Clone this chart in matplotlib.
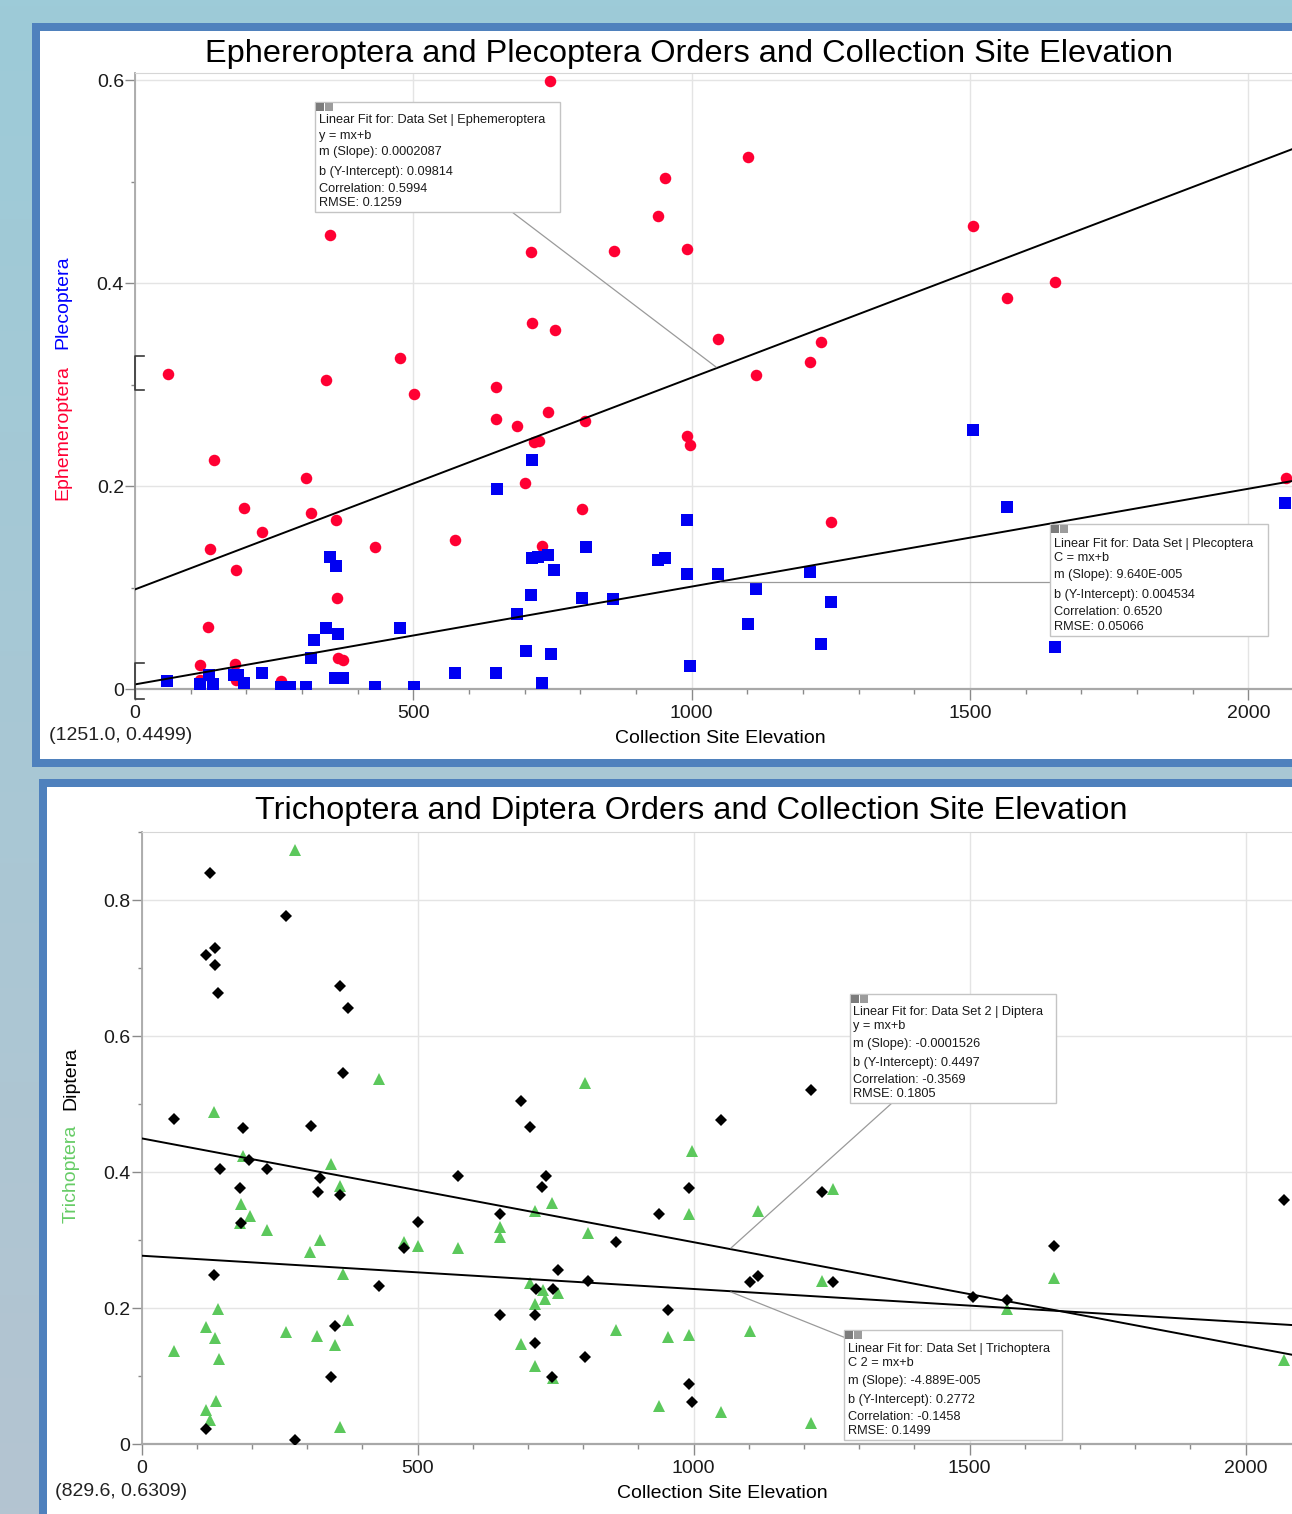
import matplotlib
matplotlib.use('Agg')
import matplotlib.pyplot as plt
import matplotlib.patches as mpatches
import matplotlib.lines as mlines
import matplotlib.ticker as ticker
from matplotlib.colors import LinearSegmentedColormap
import numpy as np

plt.rcParams['font.family'] = ['Liberation Sans', 'DejaVu Sans']

W, H = 1292, 1514

# ---- data: top chart (elevation, fraction of sample) ----
eph_x = [745, 1101, 952, 939, 1505, 350, 992, 711, 860, 1653, 1566, 713, 754, 1047,
         1232, 476, 1212, 59, 343, 1116, 648, 501, 742, 686, 648, 808, 717, 726, 992,
         997, 142, 307, 700, 195, 317, 803, 361, 1251, 228, 135, 431, 574, 731, 181,
         362, 132, 364, 374, 117, 180, 116, 181, 262, 2068]
eph_y = [0.599, 0.524, 0.504, 0.466, 0.456, 0.447, 0.434, 0.431, 0.432, 0.401, 0.385,
         0.361, 0.354, 0.345, 0.342, 0.326, 0.322, 0.310, 0.304, 0.309, 0.298, 0.291,
         0.273, 0.259, 0.266, 0.264, 0.243, 0.244, 0.249, 0.240, 0.226, 0.208, 0.203,
         0.178, 0.173, 0.177, 0.167, 0.165, 0.155, 0.138, 0.140, 0.147, 0.141, 0.117,
         0.090, 0.061, 0.031, 0.029, 0.024, 0.025, 0.009, 0.009, 0.008, 0.208]

ple_x = [1506, 650, 713, 350, 361, 810, 713, 724, 742, 753, 711, 803, 859, 687, 476,
         343, 365, 322, 317, 702, 747, 574, 649, 731, 228, 359, 374, 58, 133, 117,
         141, 178, 185, 195, 262, 278, 307, 431, 501, 1567, 992, 940, 952, 992, 1048,
         1212, 1115, 1251, 1101, 1232, 1653, 997, 2066]
ple_y = [0.255, 0.197, 0.226, 0.130, 0.121, 0.140, 0.129, 0.130, 0.132, 0.117, 0.093,
         0.090, 0.089, 0.074, 0.060, 0.060, 0.054, 0.048, 0.031, 0.037, 0.034, 0.016,
         0.016, 0.006, 0.016, 0.011, 0.011, 0.008, 0.014, 0.005, 0.005, 0.014, 0.014,
         0.006, 0.002, 0.002, 0.002, 0.002, 0.002, 0.179, 0.167, 0.127, 0.129, 0.113,
         0.113, 0.115, 0.099, 0.086, 0.064, 0.044, 0.041, 0.023, 0.183]

eph_m, eph_b = 0.0002087, 0.09814
ple_m, ple_b = 9.640e-5, 0.004534

# ---- data: bottom chart ----
dip_x = [124, 261, 116, 134, 133, 138, 360, 374, 365, 58, 184, 307, 688, 703, 1213,
         1049, 195, 142, 227, 323, 178, 319, 360, 574, 732, 726, 181, 501, 649, 938,
         860, 476, 132, 754, 431, 715, 746, 809, 649, 713, 350, 712, 804, 343, 744,
         117, 278, 992, 1232, 1653, 1102, 1117, 1252, 1507, 1568, 953, 992, 998, 2070]
dip_y = [0.840, 0.776, 0.719, 0.730, 0.704, 0.664, 0.673, 0.641, 0.546, 0.478, 0.465,
         0.468, 0.505, 0.466, 0.521, 0.477, 0.418, 0.405, 0.405, 0.392, 0.377, 0.371,
         0.366, 0.395, 0.395, 0.378, 0.326, 0.327, 0.339, 0.339, 0.297, 0.288, 0.249,
         0.256, 0.233, 0.228, 0.228, 0.240, 0.190, 0.190, 0.174, 0.149, 0.129, 0.099,
         0.099, 0.022, 0.006, 0.376, 0.371, 0.292, 0.238, 0.248, 0.238, 0.216, 0.212,
         0.198, 0.088, 0.062, 0.359]

tri_x = [278, 430, 804, 132, 184, 343, 360, 180, 197, 178, 227, 323, 306, 476, 501,
         574, 649, 649, 713, 744, 809, 365, 703, 728, 731, 755, 712, 139, 117, 133,
         141, 58, 262, 318, 350, 374, 688, 860, 713, 746, 135, 117, 124, 360, 938,
         998, 992, 1117, 1252, 1232, 1653, 1568, 953, 992, 1102, 1049, 1213, 2070]
tri_y = [0.874, 0.537, 0.531, 0.488, 0.424, 0.412, 0.380, 0.353, 0.336, 0.325, 0.315,
         0.301, 0.282, 0.298, 0.292, 0.289, 0.319, 0.305, 0.343, 0.355, 0.310, 0.250,
         0.237, 0.227, 0.214, 0.222, 0.206, 0.199, 0.173, 0.156, 0.125, 0.137, 0.165,
         0.159, 0.146, 0.182, 0.147, 0.168, 0.115, 0.097, 0.064, 0.050, 0.036, 0.026,
         0.057, 0.431, 0.339, 0.343, 0.375, 0.240, 0.245, 0.199, 0.158, 0.160, 0.166,
         0.048, 0.032, 0.124]

dip_m, dip_b = -0.0001526, 0.4497
tri_m, tri_b = -4.889e-5, 0.2772

x_max = 2100


def fig_box(x0, y0, x1, y1):
    # pixel box (from top-left) -> figure fraction rectangle
    return (x0 / W, 1 - y1 / H), (x1 - x0) / W, (y1 - y0) / H


def P(px, py):
    return px / W, 1 - py / H


fig = plt.figure(figsize=(W / 100, H / 100), dpi=100)

# background gradient
bg = fig.add_axes([0, 0, 1, 1], zorder=-20)
grad = np.linspace(0, 1, 256).reshape(-1, 1)
bg.imshow(grad, aspect='auto', extent=[0, 1, 0, 1], origin='upper',
          cmap=LinearSegmentedColormap.from_list('bg', ['#9dcbd8', '#b4c4d1']))
bg.axis('off')

# the two window panels
for outer, inner in [((32, 23, 1330, 767), (40, 31, 1330, 759)),
                     ((39, 779, 1330, 1540), (47, 787, 1330, 1540))]:
    xy, w, h = fig_box(*outer)
    fig.add_artist(mpatches.Rectangle(xy, w, h, transform=fig.transFigure,
                                      facecolor='#4f81bd', edgecolor='none', zorder=-10))
    xy, w, h = fig_box(*inner)
    fig.add_artist(mpatches.Rectangle(xy, w, h, transform=fig.transFigure,
                                      facecolor='white', edgecolor='none', zorder=-9))


def style_axes(ax, ylim):
    ax.set_xlim(0, x_max)
    ax.set_ylim(*ylim)
    ax.set_facecolor('white')
    ax.spines['right'].set_visible(False)
    ax.spines['top'].set_color('#d6d6d6')
    ax.spines['left'].set_color('#a8a8a8')
    ax.spines['bottom'].set_color('#a8a8a8')
    ax.spines['left'].set_linewidth(1.3)
    ax.spines['bottom'].set_linewidth(1.6)
    ax.xaxis.set_major_locator(ticker.MultipleLocator(500))
    ax.xaxis.set_minor_locator(ticker.MultipleLocator(100))
    ax.yaxis.set_major_locator(ticker.MultipleLocator(0.2))
    ax.yaxis.set_minor_locator(ticker.MultipleLocator(0.1))
    ax.yaxis.set_major_formatter(ticker.FuncFormatter(
        lambda v, p: '0' if abs(v) < 1e-9 else '%.1f' % v))
    ax.tick_params(axis='x', which='major', length=8, width=1, color='#8a8a8a',
                   labelsize=14, labelcolor='#1a1a1a', pad=3.5)
    ax.tick_params(axis='x', which='minor', length=3.5, width=1, color='#8a8a8a')
    ax.tick_params(axis='y', which='major', length=7, width=1, color='#8a8a8a',
                   labelsize=14, labelcolor='#1a1a1a', pad=1)
    ax.tick_params(axis='y', which='minor', length=3, width=1, color='#8a8a8a')
    ax.grid(True, which='major', color='#e4e4e4', linewidth=1)
    ax.set_axisbelow(True)


xs = np.array([0, x_max])

# ---------------- top chart ----------------
top_left, top_right, top_top, top_bot = 135, 135 + 0.5567 * x_max, 73, 689
xy, w, h = fig_box(top_left, top_top, top_right, top_bot)
ax1 = fig.add_axes([xy[0], xy[1], w, h])
style_axes(ax1, (0, 0.607))
ax1.plot(eph_x, eph_y, 'o', color='#ff0033', markersize=8.3, markeredgewidth=0, zorder=3)
ax1.plot(ple_x, ple_y, 's', color='#0000f2', markersize=8, markeredgewidth=0, zorder=3)
ax1.plot(xs, eph_m * xs + eph_b, color='black', linewidth=1.4, zorder=4)
ax1.plot(xs, ple_m * xs + ple_b, color='black', linewidth=1.4, zorder=4)

fig.text(*P(689, 54), 'Ephereroptera and Plecoptera Orders and Collection Site Elevation',
         fontsize=23.4, ha='center', va='center')
fig.text(*P(720, 739), 'Collection Site Elevation', fontsize=14, ha='center', va='center')
fig.text(*P(49, 736), '(1251.0, 0.4499)', fontsize=14, ha='left', va='center', color='#222222')
fig.text(*P(63, 302), 'Plecoptera', fontsize=14, rotation=90, ha='center', va='center',
         color='#0000ff')
fig.text(*P(63, 433), 'Ephemeroptera', fontsize=14, rotation=90, ha='center', va='center',
         color='#ff0033')

# examine brackets on the y axis
for y0, y1 in [(356, 390), (663, 699)]:
    bx = [144, 135, 135, 144]
    by = [y0, y0, y1, y1]
    fig.add_artist(mlines.Line2D([b / W for b in bx], [1 - b / H for b in by],
                                 transform=fig.transFigure, color='#3a3a3a',
                                 linewidth=1.2, zorder=5))

# ---------------- bottom chart ----------------
bot_left, bot_right, bot_top, bot_bot = 141.5, 141.5 + 0.552 * x_max, 832, 1444.3
xy, w, h = fig_box(bot_left, bot_top, bot_right, bot_bot)
ax2 = fig.add_axes([xy[0], xy[1], w, h])
style_axes(ax2, (0, 0.9))
ax2.plot(tri_x, tri_y, '^', color='#5cc85c', markersize=8, markeredgewidth=0, zorder=3)
ax2.plot(dip_x, dip_y, 'D', color='black', markersize=6, markeredgewidth=0, zorder=3)
ax2.plot(xs, dip_m * xs + dip_b, color='black', linewidth=1.4, zorder=4)
ax2.plot(xs, tri_m * xs + tri_b, color='black', linewidth=1.4, zorder=4)

fig.text(*P(691, 811), 'Trichoptera and Diptera Orders and Collection Site Elevation',
         fontsize=23.4, ha='center', va='center')
fig.text(*P(722, 1494), 'Collection Site Elevation', fontsize=14, ha='center', va='center')
fig.text(*P(55, 1492), '(829.6, 0.6309)', fontsize=14, ha='left', va='center', color='#222222')
fig.text(*P(71, 1078), 'Diptera', fontsize=14, rotation=90, ha='center', va='center',
         color='black')
fig.text(*P(71, 1174), 'Trichoptera', fontsize=14, rotation=90, ha='center', va='center',
         color='#66cc66')

# ---------------- fit info boxes ----------------
boxes = [
    ((315, 102, 560, 212), 319,
     ['Linear Fit for: Data Set | Ephemeroptera', 'y = mx+b', 'm (Slope): 0.0002087',
      'b (Y-Intercept): 0.09814', 'Correlation: 0.5994', 'RMSE: 0.1259'],
     [120.5, 135.5, 152.5, 172.5, 189, 203.5], ((512, 212), (716, 367))),
    ((1050, 524, 1268, 636), 1054,
     ['Linear Fit for: Data Set | Plecoptera', 'C = mx+b', 'm (Slope): 9.640E-005',
      'b (Y-Intercept): 0.004534', 'Correlation: 0.6520', 'RMSE: 0.05066'],
     [544, 558.5, 575.5, 595.5, 612, 627], ((1050, 581.5), (720, 581.5))),
    ((850, 994, 1056, 1103), 853,
     ['Linear Fit for: Data Set 2 | Diptera', 'y = mx+b', 'm (Slope): -0.0001526',
      'b (Y-Intercept): 0.4497', 'Correlation: -0.3569', 'RMSE: 0.1805'],
     [1012.5, 1026.5, 1044, 1063, 1080, 1094], ((892, 1103), (731, 1248))),
    ((844, 1330, 1062, 1440), 848,
     ['Linear Fit for: Data Set | Trichoptera', 'C 2 = mx+b', 'm (Slope): -4.889E-005',
      'b (Y-Intercept): 0.2772', 'Correlation: -0.1458', 'RMSE: 0.1499'],
     [1349, 1363.5, 1381, 1400.5, 1417, 1431], ((846, 1338), (731, 1292))),
]

for (x0, y0, x1, y1), tx, lines, ys, leader in boxes:
    (lx0, ly0), (lx1, ly1) = leader
    fig.add_artist(mlines.Line2D([lx0 / W, lx1 / W], [1 - ly0 / H, 1 - ly1 / H],
                                 transform=fig.transFigure, color='#9a9a9a',
                                 linewidth=0.9, zorder=5))
    xy, w, h = fig_box(x0, y0, x1, y1)
    fig.add_artist(mpatches.Rectangle(xy, w, h, transform=fig.transFigure,
                                      facecolor='white', edgecolor='#c4c4c4',
                                      linewidth=1, zorder=6))
    # close / minimise icons
    for k, c in enumerate(['#7c7c7c', '#9c9c9c']):
        xy, w, h = fig_box(x0 + 1 + 9 * k, y0 + 1, x0 + 9 + 9 * k, y0 + 9)
        fig.add_artist(mpatches.Rectangle(xy, w, h, transform=fig.transFigure,
                                          facecolor=c, edgecolor='none', zorder=7))
    for line, yy in zip(lines, ys):
        fig.text(*P(tx, yy), line, fontsize=9.2, ha='left', va='center',
                 color='#1a1a1a', zorder=8)

fig.savefig('out.png', dpi=100)
